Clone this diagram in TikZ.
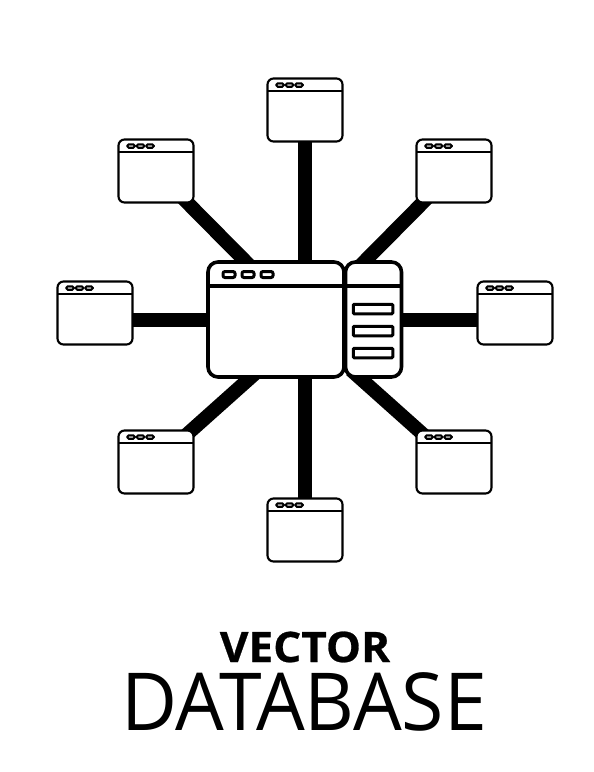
\documentclass[tikz,border=0pt]{standalone}
\usepackage{fontspec}
\setmainfont{Open Sans}
\usetikzlibrary{backgrounds}
\tikzset{
  winbox/.style={draw=black,fill=white,line width=2.1pt,rounded corners=6pt,minimum width=75pt,minimum height=63pt,inner sep=0pt,outer sep=0pt},
  dot/.style={draw=black,fill=white!75!black,line width=2pt,rounded corners=1.5pt,minimum width=7.5pt,minimum height=3.5pt,inner sep=0pt},
  hubbox/.style={draw=black,fill=white,line width=3.6pt,rounded corners=10pt,inner sep=0pt,outer sep=0pt},
  hubdot/.style={draw=black,fill=white,line width=3pt,rounded corners=2pt,minimum width=12pt,minimum height=6pt,inner sep=0pt},
  slot/.style={draw=black,fill=white,line width=3pt,rounded corners=1pt,minimum width=39.5pt,minimum height=9.5pt,inner sep=0pt},
  link/.style={draw=black,line width=14pt},
  titlebar/.style={draw=black,line width=2pt},
  hubbar/.style={draw=black,line width=3.2pt}
}
\newcommand{\smallwin}[3]{%
  \node[winbox] (#1) at (#2,#3) {};
  \draw[titlebar] ([yshift=-12pt]#1.north west) -- ([yshift=-12pt]#1.north east);
  \node[dot] at ([xshift=12.5pt,yshift=-6.5pt]#1.north west) {};
  \node[dot] at ([xshift=22pt,yshift=-6.5pt]#1.north west) {};
  \node[dot] at ([xshift=31.5pt,yshift=-6.5pt]#1.north west) {};
}
\begin{document}
\begin{tikzpicture}[x=1pt,y=-1pt]
\useasboundingbox (0,0) rectangle (594,772);
\smallwin{wt}{305}{110}
\smallwin{wtl}{156}{171}
\smallwin{wtr}{454}{171}
\smallwin{wl}{95}{313}
\smallwin{wr}{515}{313}
\smallwin{wbl}{156}{462}
\smallwin{wbr}{454}{462}
\smallwin{wb}{305}{530}
\node[hubbox,minimum width=136pt,minimum height=115pt] (main) at (276,319.5) {};
\node[hubbox,minimum width=56pt,minimum height=115pt] (side) at (373.5,319.5) {};
\draw[hubbar] ([yshift=-24pt]main.north west) -- ([yshift=-24pt]side.north east);
\node[hubdot] (d1) at (229,274.5) {};
\node[hubdot] (d2) at (248,274.5) {};
\node[hubdot] (d3) at (267,274.5) {};
\node[slot] (s1) at (373,309) {};
\node[slot] (s2) at (373,331) {};
\node[slot] (s3) at (373,353) {};
\coordinate (htl) at (255,271);
\coordinate (htr) at (355,271);
\coordinate (hbl) at (259,370);
\coordinate (hbr) at (351,370);
\coordinate (ht) at (305,300);
\coordinate (hb) at (305,340);
\coordinate (hl) at (230,320);
\coordinate (hr) at (385,320);
\coordinate (wlc) at (95,320);
\coordinate (wrc) at (515,320);
\begin{scope}[on background layer]
\draw[link] (wtl.center) -- (htl);
\draw[link] (wtr.center) -- (htr);
\draw[link] (wbl.center) -- (hbl);
\draw[link] (wbr.center) -- (hbr);
\draw[link] (wt.center) -- (ht);
\draw[link] (wb.center) -- (hb);
\draw[link] (wlc) -- (hl);
\draw[link] (wrc) -- (hr);
\end{scope}
\node[anchor=base,font=\fontsize{42}{42}\selectfont\bfseries\addfontfeature{FakeBold=0.6},inner sep=0pt,xscale=1.05] (t1) at (305,662) {VECTOR};
\node[anchor=base,font=\fontsize{80}{80}\selectfont,inner sep=0pt,xscale=0.962] (t2) at (304,730) {DATABASE};
\end{tikzpicture}
\end{document}
